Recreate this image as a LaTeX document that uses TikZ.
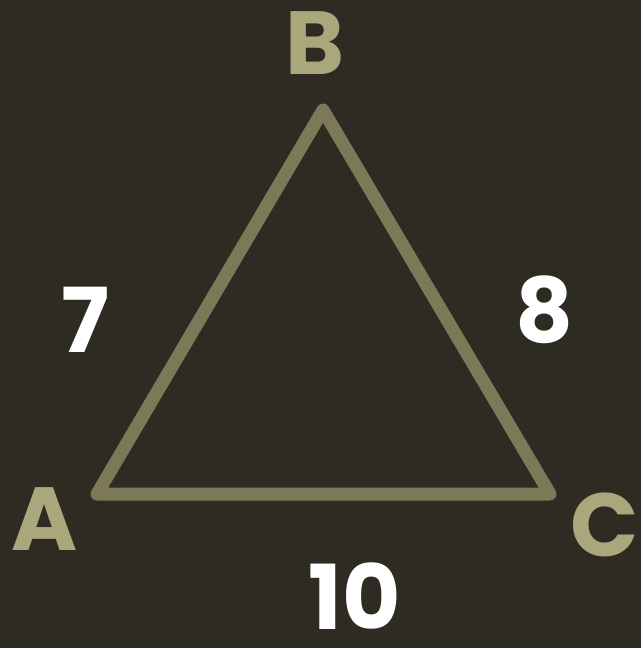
\documentclass[tikz,border=0pt]{standalone}
\usepackage{fontspec}
\setmainfont{Poppins}
\usepackage{tikz}
\usetikzlibrary{
	positioning,
	calc
}
\definecolor{NightBg}{RGB}{46,44,34}
\definecolor{OliveLine}{RGB}{123,121,87}
\definecolor{OliveText}{RGB}{169,167,123}

\begin{document}
\begin{tikzpicture}[
	x=0.02cm,
	y=-0.02cm,
	vertexlabel/.style={text=OliveText, font=\fontsize{51}{56}\selectfont\bfseries, inner sep=0pt},
	sidelabel/.style={text=white, font=\fontsize{51}{56}\selectfont\bfseries, inner sep=0pt}
	]
	
	\fill[NightBg] (0,0) rectangle (641,648);
	\useasboundingbox (0,0) rectangle (641,648);
	
	\coordinate (A) at (97,494);
	\coordinate (B) at (323,110);
	\coordinate (C) at (550,494);
	
	\draw[
	OliveLine,
	line width=13*0.02cm,
	line join=round
	] (A) -- (B) -- (C) -- cycle;
	
	\node[vertexlabel] (LA) at (45,519) {A};
	\node[vertexlabel] (LB) at (315,43) {B};
	\node[vertexlabel] (LC) at (605,525) {C};
	
	\node[sidelabel] (AB) at (85,320) {7};
	\node[sidelabel] (BC) at (545,310) {8};
	\node[sidelabel] (CA) at (355,596) {10};
	
\end{tikzpicture}
\end{document}
